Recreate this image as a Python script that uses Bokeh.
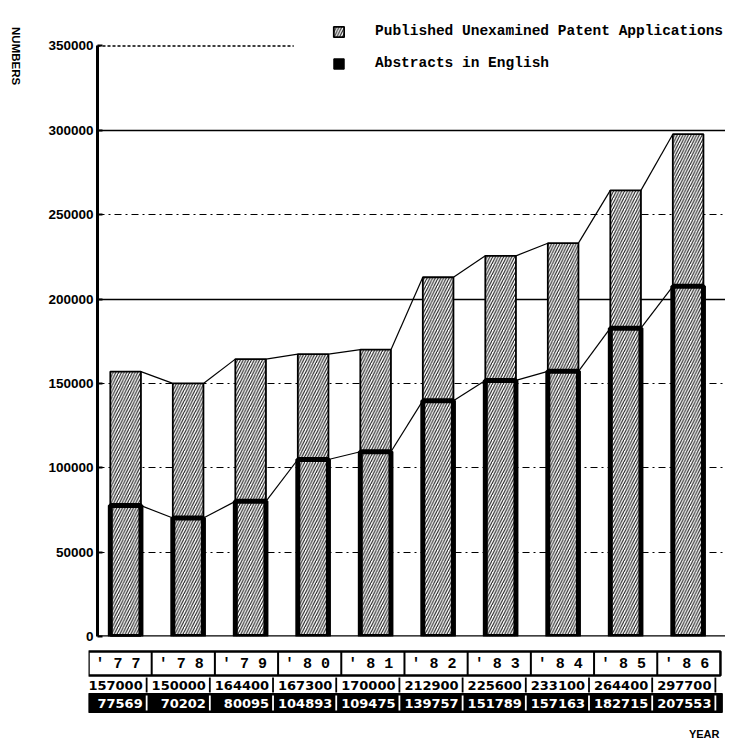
import math
from bokeh.plotting import figure
from bokeh.models import (Range1d, FixedTicker, Grid, Span, Legend, LegendItem,
                          PrintfTickFormatter)
from bokeh.layouts import column, row
from bokeh.embed import file_html
from bokeh.resources import INLINE
from bokeh.core.properties import value

# ---- data ----
years = ["'77", "'78", "'79", "'80", "'81", "'82", "'83", "'84", "'85", "'86"]
published = [157000, 150000, 164400, 167300, 170000, 212900, 225600, 233100, 264400, 297700]
abstracts = [77569, 70202, 80095, 104893, 109475, 139757, 151789, 157163, 182715, 207553]
y_ticks = [0, 50000, 100000, 150000, 200000, 250000, 300000, 350000]
solid_grid = [200000, 300000]
dash_grid = [50000, 100000, 150000, 250000]
series_names = ["Published Unexamined Patent Applications", "Abstracts in English"]
y_title = "NUMBERS"
x_title = "YEAR"

SANS = "Liberation Sans"
TSANS = "DejaVu Sans"
MONO = "Liberation Mono"

xs = [i + 0.5 for i in range(len(years))]
BW = 0.49

# ---- narrow strip for the vertical y title ----
LW = 30
lf = figure(width=LW, height=644, x_range=Range1d(0, LW), y_range=Range1d(644, 0),
            output_backend="svg", toolbar_location=None, x_axis_type=None, y_axis_type=None,
            min_border=0)
lf.outline_line_color = None
lf.grid.visible = False
lf.text(x=[15], y=[17], text=[y_title], angle=-math.pi / 2, text_align="left",
        text_baseline="middle", text_font=value(SANS), text_font_style="bold",
        text_font_size="11.5px", text_color="black")

# ---- main chart ----
p = figure(width=725 - LW, height=644, x_range=Range1d(0.05, 10.098), y_range=Range1d(0, 371000),
           output_backend="svg", toolbar_location=None, x_axis_type=None,
           min_border_left=97 - LW, min_border_right=0, min_border_top=10, min_border_bottom=8)
p.outline_line_color = None
p.grid.visible = False
p.background_fill_color = "white"

g1 = Grid(dimension=1, ticker=FixedTicker(ticks=solid_grid), grid_line_color="black",
          grid_line_width=1.5)
g2 = Grid(dimension=1, ticker=FixedTicker(ticks=dash_grid), grid_line_color="black",
          grid_line_width=1.2, grid_line_dash="7 4 2 4")
p.add_layout(g1)
p.add_layout(g2)
p.segment(x0=[0.05], y0=[y_ticks[-1]], x1=[3.19], y1=[y_ticks[-1]],
          line_color="black", line_width=1.5, line_dash="3 2")

ya = p.yaxis[0]
ya.ticker = FixedTicker(ticks=y_ticks)
ya.bounds = (0, 350000)
ya.formatter = PrintfTickFormatter(format="%d")
ya.axis_line_width = 3
ya.axis_line_color = "black"
ya.major_tick_in = 5
ya.major_tick_out = 0
ya.major_tick_line_width = 2
ya.minor_tick_line_color = None
ya.major_label_text_font = SANS
ya.major_label_text_font_style = "bold"
ya.major_label_text_font_size = "13.5px"
ya.major_label_text_color = "black"
ya.major_label_standoff = 4

p.add_layout(Span(location=0, dimension="width", line_color="black", line_width=2.5))

hatch = dict(hatch_pattern="/", hatch_scale=5.5, hatch_color="#1a1a1a", hatch_weight=1.1)

r_pub = p.vbar(x=xs, bottom=abstracts, top=published, width=BW, fill_color="white",
               line_color="black", line_width=1.8, **hatch)
r_abs = p.vbar(x=xs, bottom=0, top=abstracts, width=BW, fill_color="white",
               line_color="black", line_width=5, **hatch)
r_leg = p.vbar(x=[xs[0]], bottom=[0], top=[0], width=BW, fill_color="black",
               line_color="black", line_width=1)

p.segment(x0=[x + BW / 2 for x in xs[:-1]], y0=published[:-1],
          x1=[x - BW / 2 for x in xs[1:]], y1=published[1:], line_color="black", line_width=1.2)
p.segment(x0=[x + BW / 2 for x in xs[:-1]], y0=abstracts[:-1],
          x1=[x - BW / 2 for x in xs[1:]], y1=abstracts[1:], line_color="black", line_width=1.2)

legend = Legend(items=[LegendItem(label=series_names[0], renderers=[r_pub]),
                       LegendItem(label=series_names[1], renderers=[r_leg])],
                location=(235, 565), orientation="vertical",
                glyph_width=13, glyph_height=13, label_standoff=30, spacing=16,
                padding=0, margin=0, border_line_alpha=0, background_fill_alpha=0,
                label_text_font=MONO, label_text_font_style="bold",
                label_text_font_size="14.5px", label_text_color="black")
p.add_layout(legend)

# ---- table ----
n = len(years)
t = figure(width=725, height=96, x_range=Range1d(0, 10.08), y_range=Range1d(96, 0),
           output_backend="svg", toolbar_location=None, x_axis_type=None, y_axis_type=None,
           min_border=0, min_border_left=88)
t.outline_line_color = None
t.grid.visible = False

cols = list(range(n))
t.quad(left=[0], right=[n + 0.03], top=[49], bottom=[68], fill_color="black", line_color="black")
t.quad(left=[0], right=[n], top=[7], bottom=[31], fill_color="white", line_color="black",
       line_width=2.5)
t.segment(x0=cols[1:], y0=[7] * (n - 1), x1=cols[1:], y1=[31] * (n - 1),
          line_color="black", line_width=2)
t.text(x=cols, y=[19.5] * n, text=[" ".join(y) for y in years], x_offset=7,
       text_align="left", text_baseline="middle", text_font=value(MONO),
       text_font_style="bold", text_font_size="15px", text_color="black")
t.text(x=[c + 1 for c in cols], y=[40.5] * n, text=[str(v) for v in published], x_offset=-9,
       text_align="right", text_baseline="middle", text_font=value(TSANS),
       text_font_style="bold", text_font_size="13px", text_color="black")
t.segment(x0=[c + 0.92 for c in cols], y0=[33] * n, x1=[c + 0.92 for c in cols], y1=[48] * n,
          line_color="black", line_width=1.8)
t.text(x=[c + 1 for c in cols], y=[58.5] * n, text=[str(v) for v in abstracts], x_offset=-9,
       text_align="right", text_baseline="middle", text_font=value(TSANS),
       text_font_style="bold", text_font_size="13px", text_color="white")
t.segment(x0=[c + 0.92 for c in cols], y0=[51] * n, x1=[c + 0.92 for c in cols], y1=[66] * n,
          line_color="white", line_width=1.8)
t.text(x=[10.08], y=[89], text=[x_title], x_offset=-6, text_align="right",
       text_baseline="middle", text_font=value(SANS), text_font_style="bold",
       text_font_size="11px", text_color="black")

layout = column(row(lf, p, spacing=0), t, spacing=0)
open("out.html", "w").write(file_html(layout, INLINE))
